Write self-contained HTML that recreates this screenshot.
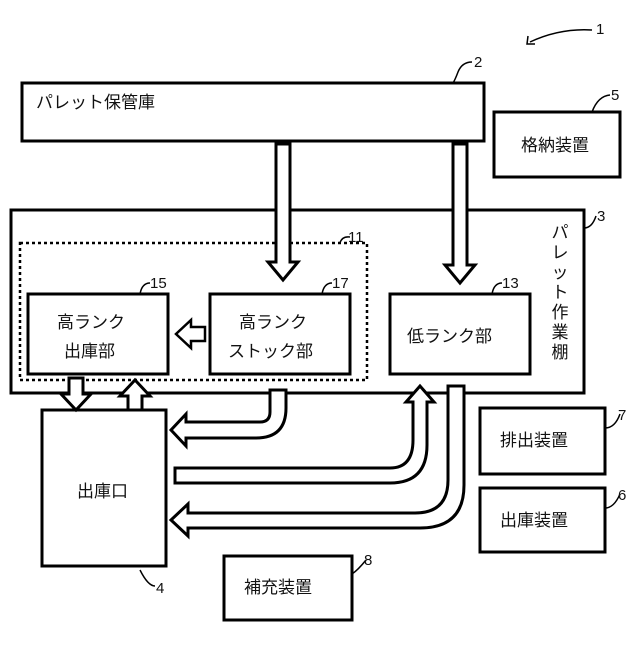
<!DOCTYPE html>
<html><head><meta charset="utf-8"><style>
body{margin:0;background:#fff}
svg text{font-family:"Liberation Sans","Noto Sans CJK JP",sans-serif;fill:#111}
</style></head><body>
<svg width="640" height="640" viewBox="0 0 640 640" xmlns="http://www.w3.org/2000/svg">
<g fill="#fff" stroke="#000" stroke-width="3">
<rect x="22" y="83" width="462" height="58"/>
<rect x="494" y="112" width="126" height="65"/>
<rect x="11" y="210" width="573" height="183"/>
<rect x="20" y="243" width="347" height="137" stroke-dasharray="3,3" stroke-width="2.5"/>
<rect x="28" y="294" width="140" height="80"/>
<rect x="210" y="294" width="140" height="80"/>
<rect x="390" y="294" width="140" height="80"/>
<rect x="42" y="410" width="124" height="156"/>
<rect x="480" y="408" width="125" height="66"/>
<rect x="480" y="488" width="125" height="64"/>
<rect x="224" y="556" width="128" height="64"/>
<path d="M276,144 L290,144 L290,262 L298,262 L283,280 L268,262 L276,262 Z"/>
<path d="M453,144 L467,144 L467,265 L475,265 L460,283 L445,265 L453,265 Z"/>
<path d="M205,327 L191,327 L191,320 L176,334 L191,348 L191,341 L205,341 Z" stroke-width="2.5"/>
<path d="M69,378 L83,378 L83,394 L91,394 L76,410 L61,394 L69,394 Z"/>
<path d="M128,410 L142,410 L142,396 L150,396 L135,380 L120,396 L128,396 Z"/>
<path d="M270,390 L270,412 Q270,422 260,422 L186,422 L186,414 L171,430 L186,446 L186,438 L256,438 Q286,438 286,408 L286,390 Z"/>
<path d="M175,468 L390,468 Q413,468 413,440 L413,402 L406,402 L420,386 L434,402 L427,402 L427,445 Q427,483 390,483 L175,483 Z"/>
<path d="M448,386 L448,480 Q448,513 415,513 L188,513 L188,504 L171,520 L188,536 L188,528 L420,528 Q464,528 464,485 L464,386 Z"/>
</g>
<g fill="none" stroke="#000" stroke-width="1.5">
<path d="M592,30 Q560,28 530,42"/><path d="M528,36 L527,44 L535,44"/>
<path d="M472,62 Q462,62 458,72 Q455,80 453,83"/>
<path d="M610,95 Q598,96 592,112"/>
<path d="M596,216 Q592,228 584,228"/>
<path d="M350,237 Q342,236 340,243"/>
<path d="M150,283 Q142,283 140,294"/>
<path d="M332,283 Q324,283 322,294"/>
<path d="M502,283 Q494,283 492,294"/>
<path d="M620,414 Q615,428 605,428"/>
<path d="M620,494 Q614,508 605,508"/>
<path d="M155,586 Q148,586 140,570"/>
<path d="M366,560 Q358,570 352,574"/>
</g>
<g font-size="17">
<text x="36" y="108">パレット保管庫</text>
<text x="521" y="151">格納装置</text>
<text x="57" y="328">高ランク</text>
<text x="64" y="357">出庫部</text>
<text x="239" y="328">高ランク</text>
<text x="228" y="357">ストック部</text>
<text x="407" y="342">低ランク部</text>
<text x="77" y="497">出庫口</text>
<text x="500" y="446">排出装置</text>
<text x="500" y="526">出庫装置</text>
<text x="244" y="593">補充装置</text>
</g>
<g font-size="17" text-anchor="middle">
<text x="560" y="238">パ</text><text x="560" y="258">レ</text><text x="560" y="278">ッ</text>
<text x="560" y="298">ト</text><text x="560" y="318">作</text><text x="560" y="338">業</text><text x="560" y="358">棚</text>
</g>
<g font-size="15">
<text x="596" y="34">1</text><text x="474" y="67">2</text><text x="611" y="100">5</text>
<text x="597" y="221">3</text><text x="348" y="242">11</text><text x="150" y="288">15</text>
<text x="332" y="288">17</text><text x="502" y="288">13</text><text x="618" y="420">7</text>
<text x="618" y="500">6</text><text x="156" y="593">4</text><text x="364" y="565">8</text>
</g>
</svg>
</body></html>
